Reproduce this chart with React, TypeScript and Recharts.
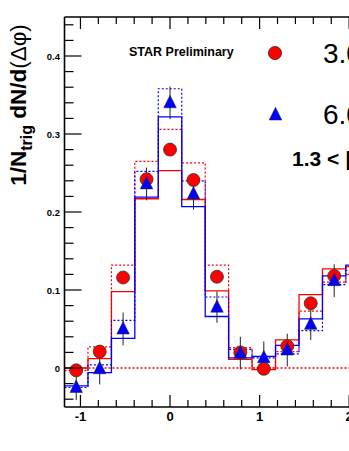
import React from 'react';
import { ComposedChart, Line, Scatter, ErrorBar, XAxis, YAxis, ReferenceLine } from 'recharts';

// bin centres (delta phi, rad) and bin edges
const centers = [-1.047, -0.785, -0.524, -0.262, 0, 0.262, 0.524, 0.785, 1.047, 1.309, 1.571, 1.833];
const edges = [-1.178, -0.916, -0.654, -0.393, -0.131, 0.131, 0.393, 0.654, 0.916, 1.178, 1.44, 1.702, 1.963, 2.225];

// 3.0 < pT trig < 6.0 (red circles)
const redVals = [-0.003, 0.021, 0.116, 0.242, 0.28, 0.241, 0.117, 0.02, -0.001, 0.028, 0.083, 0.118];
const redErr = [0.006, 0.006, 0.006, 0.006, 0.006, 0.006, 0.006, 0.006, 0.006, 0.006, 0.006, 0.006];
const redSys1 = [0.0, 0.012, 0.098, 0.217, 0.253, 0.216, 0.099, 0.011, -0.002, 0.036, 0.094, 0.127, 0.13];
const redSys2 = [-0.003, 0.027, 0.132, 0.265, 0.306, 0.263, 0.132, 0.026, 0.0, 0.021, 0.073, 0.11, 0.12];

// 6.0 < pT trig (blue triangles)
const blueVals = [-0.025, -0.001, 0.05, 0.236, 0.34, 0.223, 0.078, 0.019, 0.013, 0.023, 0.056, 0.112];
const blueErr = [0.016, 0.02, 0.021, 0.021, 0.021, 0.02, 0.02, 0.021, 0.021, 0.021, 0.02, 0.021];
const blueSys1 = [-0.023, -0.006, 0.038, 0.219, 0.322, 0.207, 0.066, 0.013, 0.015, 0.029, 0.063, 0.118, 0.132];
const blueSys2 = [-0.025, 0.004, 0.061, 0.252, 0.358, 0.24, 0.091, 0.024, 0.013, 0.018, 0.048, 0.107, 0.125];

const xTicks = [-1, -0.8, -0.6, -0.4, -0.2, 0, 0.2, 0.4, 0.6, 0.8, 1, 1.2, 1.4, 1.6, 1.8, 2, 2.2];
const yTicks = [-0.04, -0.02, 0, 0.02, 0.04, 0.06, 0.08, 0.1, 0.12, 0.14, 0.16, 0.18, 0.2, 0.22, 0.24, 0.26, 0.28, 0.3, 0.32, 0.34, 0.36, 0.38, 0.4, 0.42, 0.44];

const FONT = '"Liberation Sans", Arial, Helvetica, sans-serif';

const steps = (vals: number[]) =>
  edges.map((e, i) => ({ x: e, y: vals[Math.min(i, vals.length - 1)] }));
const points = (vals: number[], errs: number[]) =>
  centers.map((c, i) => ({ x: c, y: vals[i], err: errs[i] }));

const isMajorX = (v: number) => Math.abs(v - Math.round(v)) < 1e-6;
const isMajorY = (v: number) => Math.abs(v * 10 - Math.round(v * 10)) < 1e-6;

const BottomTick = (props: any) => {
  const { x, y, payload } = props;
  const major = isMajorX(payload.value);
  return (
    <g>
      <line x1={x} x2={x} y1={y} y2={y - (major ? 12 : 7)} stroke="#000" strokeWidth={1.2} />
      {major && (
        <text x={x} y={y + 14} textAnchor="middle" fontFamily={FONT} fontWeight="bold" fontSize={13} fill="#000">
          {payload.value}
        </text>
      )}
    </g>
  );
};

const TopTick = (props: any) => {
  const { x, y, payload } = props;
  const major = isMajorX(payload.value);
  return <line x1={x} x2={x} y1={y} y2={y + (major ? 12 : 7)} stroke="#000" strokeWidth={1.2} />;
};

const LeftTick = (props: any) => {
  const { x, y, payload } = props;
  const major = isMajorY(payload.value);
  return (
    <g>
      <line x1={x} x2={x + (major ? 17 : 9)} y1={y} y2={y} stroke="#000" strokeWidth={1.2} />
      {major && (
        <text x={x - 4.5} y={y + 3.5} textAnchor="end" fontFamily={FONT} fontWeight="bold" fontSize={9.5} fill="#000">
          {Math.round(payload.value * 10) / 10}
        </text>
      )}
    </g>
  );
};

const Circle = (props: any) => (
  <circle cx={props.cx} cy={props.cy} r={6.5} fill="#ff0000" stroke="#333" strokeWidth={0.8} />
);

const Triangle = (props: any) => {
  const { cx, cy } = props;
  return (
    <polygon
      points={`${cx},${cy - 7.5} ${cx - 6.3},${cy + 5} ${cx + 6.3},${cy + 5}`}
      fill="#0000ff"
      stroke="#222"
      strokeWidth={0.5}
    />
  );
};

export default function App() {
  return (
    <div style={{ position: 'fixed', left: 0, top: 0, width: 349, height: 451, overflow: 'hidden', background: '#fff' }}>
      <ComposedChart width={400} height={451} margin={{ top: 16, right: 15, bottom: 43, left: 63.5 }}>
        <XAxis
          dataKey="x"
          type="number"
          domain={[-1.178, 2.4]}
          allowDataOverflow
          ticks={xTicks}
          interval={0}
          height={1}
          tickSize={0}
          tickMargin={0}
          tickLine={false}
          tick={<BottomTick />}
          axisLine={{ stroke: '#000', strokeWidth: 1.6 }}
        />
        <XAxis
          xAxisId="top"
          orientation="top"
          dataKey="x"
          type="number"
          domain={[-1.178, 2.4]}
          allowDataOverflow
          ticks={xTicks}
          interval={0}
          height={1}
          tickSize={0}
          tickMargin={0}
          tickLine={false}
          tick={<TopTick />}
          axisLine={{ stroke: '#000', strokeWidth: 1.6 }}
        />
        <YAxis
          type="number"
          domain={[-0.05, 0.45]}
          allowDataOverflow
          ticks={yTicks}
          interval={0}
          width={1}
          tickSize={0}
          tickMargin={0}
          tickLine={false}
          tick={<LeftTick />}
          axisLine={{ stroke: '#000', strokeWidth: 1.6 }}
        />
        <Line data={steps(redSys1)} dataKey="y" type="stepAfter" stroke="#ff0000" strokeWidth={1.3} dot={false} isAnimationActive={false} />
        <Line data={steps(redSys2)} dataKey="y" type="stepAfter" stroke="#ff0000" strokeWidth={1.2} strokeDasharray="2 2" dot={false} isAnimationActive={false} />
        <Line data={steps(blueSys1)} dataKey="y" type="stepAfter" stroke="#0000ff" strokeWidth={1.3} dot={false} isAnimationActive={false} />
        <Line data={steps(blueSys2)} dataKey="y" type="stepAfter" stroke="#0000ff" strokeWidth={1.2} strokeDasharray="2 2" dot={false} isAnimationActive={false} />
        <ReferenceLine y={0} stroke="#ff0000" strokeWidth={1.3} strokeDasharray="2 2" />
        <Scatter data={points(redVals, redErr)} dataKey="y" shape={<Circle />} isAnimationActive={false}>
          <ErrorBar dataKey="err" direction="y" width={0} stroke="#222" strokeWidth={1} />
        </Scatter>
        <Scatter data={points(blueVals, blueErr)} dataKey="y" shape={<Triangle />} isAnimationActive={false}>
          <ErrorBar dataKey="err" direction="y" width={0} stroke="#222" strokeWidth={1} />
        </Scatter>
      </ComposedChart>
      <svg width={349} height={451} style={{ position: 'absolute', left: 0, top: 0, pointerEvents: 'none' }}>
        <text
          x={26}
          y={105}
          transform="rotate(-90 26 105)"
          textAnchor="middle"
          fontFamily={FONT}
          fontWeight="bold"
          fontSize={22.5}
          fill="#000"
        >
          1/N
          <tspan fontSize={16} dy={6}>trig</tspan>
          <tspan dy={-6}> dN/d</tspan>
          <tspan fontWeight="normal">(Δφ)</tspan>
        </text>
        <text x={129} y={56} fontFamily={FONT} fontWeight="bold" fontSize={12.5} fill="#000">
          STAR Preliminary
        </text>
        <circle cx={275} cy={53} r={6.6} fill="#ff0000" stroke="#333" strokeWidth={0.8} />
        <text x={323} y={63} fontFamily={FONT} fontSize={28} fill="#000">
          3.0 &lt; p
        </text>
        <polygon points="275.5,107.3 269.2,120 281.8,120" fill="#0000ff" stroke="#222" strokeWidth={0.5} />
        <text x={323} y={124} fontFamily={FONT} fontSize={28} fill="#000">
          6.0 &lt; p
        </text>
        <text x={292} y={166} fontFamily={FONT} fontWeight="bold" fontSize={21} fill="#000">
          1.3 &lt; |Δη|
        </text>
      </svg>
    </div>
  );
}
